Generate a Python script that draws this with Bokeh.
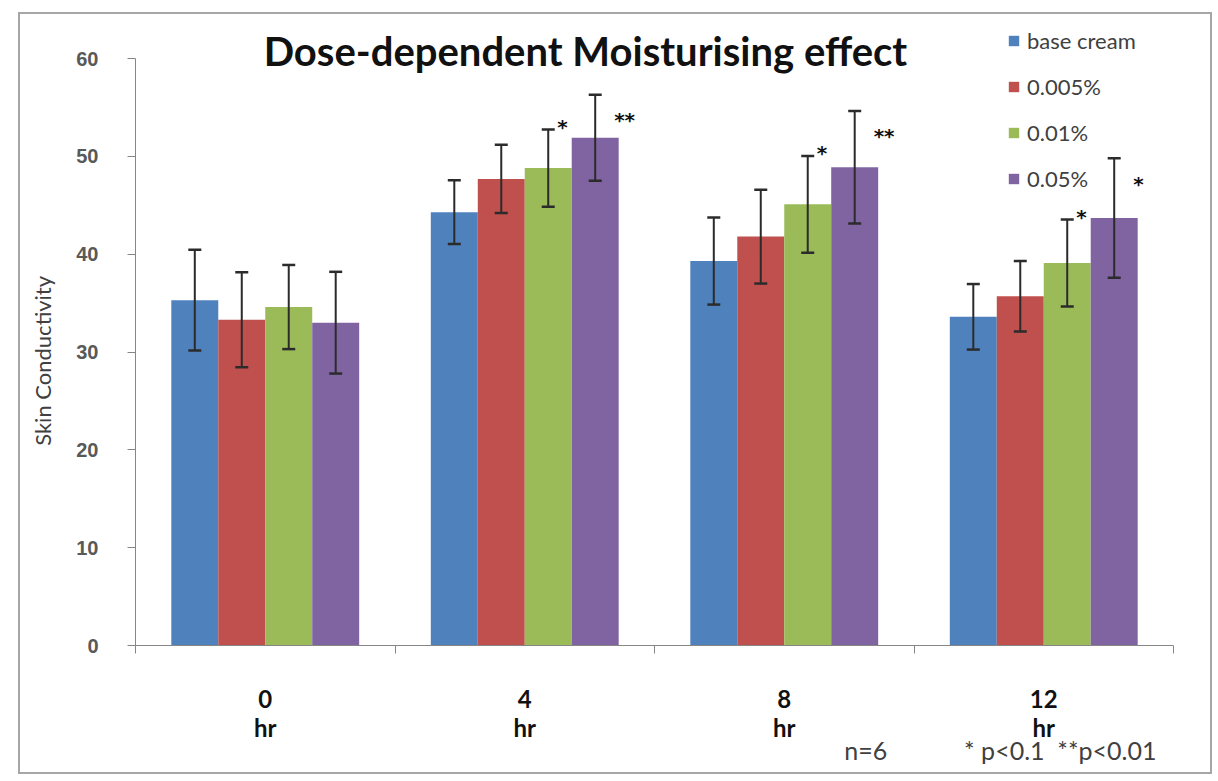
from bokeh.plotting import figure
from bokeh.models import (Range1d, FixedTicker, Whisker, TeeHead, ColumnDataSource,
                          Legend, LegendItem, Label, LinearAxis, Title)
from bokeh.core.properties import value
from bokeh.embed import file_html
from bokeh.resources import INLINE

# ---------------- data ----------------
hours = ["0", "4", "8", "12"]
hour_unit = "hr"
series_names = ["base cream", "0.005%", "0.01%", "0.05%"]
base_cream = [35.3, 44.3, 39.3, 33.6]
base_cream_err = [5.15, 3.25, 4.45, 3.35]
pct_0005 = [33.3, 47.7, 41.8, 35.7]
pct_0005_err = [4.85, 3.5, 4.8, 3.6]
pct_001 = [34.6, 48.8, 45.1, 39.1]
pct_001_err = [4.3, 3.95, 4.95, 4.45]
pct_005 = [33.0, 51.9, 48.9, 43.7]
pct_005_err = [5.2, 4.4, 5.75, 6.1]
sig_001 = ["", "*", "*", "*"]
sig_005 = ["", "**", "**", "*"]
y_ticks = [0, 10, 20, 30, 40, 50, 60]
NB = "\u00a0"
footnote = "n=6" + NB * 12 + "* p<0.1" + NB * 2 + "**p<0.01"
y_title = "Skin Conductivity"

values = [base_cream, pct_0005, pct_001, pct_005]
errors = [base_cream_err, pct_0005_err, pct_001_err, pct_005_err]
colors = ["#4F81BD", "#C0504D", "#9BBB59", "#8064A2"]

BAR_W = 0.181
ERR_COLOR = "#2b2b2b"
TEXT_COLOR = "#404040"
AXIS_COLOR = "#868686"

p = figure(width=1194, height=762, output_backend="svg", toolbar_location=None,
           x_range=Range1d(0, 4), y_range=Range1d(0, 63.89),
           min_border_left=115, min_border_right=41, min_border_top=6,
           min_border_bottom=131, title=None)
p.margin = (12, 0, 0, 18)
p.styles = {"border": "2px solid #a6a6a6"}
p.outline_line_color = None
p.background_fill_color = "white"
p.border_fill_color = "white"
p.grid.visible = False

legend_items = []
for j, (name, vals, errs, col) in enumerate(zip(series_names, values, errors, colors)):
    xs = [i + 0.5 + (j - 1.5) * BAR_W for i in range(len(hours))]
    src = ColumnDataSource(dict(x=xs, top=vals,
                                upper=[v + e for v, e in zip(vals, errs)],
                                lower=[v - e for v, e in zip(vals, errs)]))
    r = p.vbar(x="x", top="top", width=BAR_W, bottom=0, source=src,
               fill_color=col, line_color=None)
    legend_items.append(LegendItem(label=name, renderers=[r]))
    w = Whisker(source=src, base="x", upper="upper", lower="lower",
                line_color=ERR_COLOR, line_width=2, level="annotation",
                upper_head=TeeHead(size=13, line_color=ERR_COLOR, line_width=2.5),
                lower_head=TeeHead(size=13, line_color=ERR_COLOR, line_width=2.5))
    p.add_layout(w)

# significance markers (placed relative to the top of each error bar)
star_sets = [(2, sig_001, 0.035, 0.3), (3, sig_005, 0.073, -2.6)]
for j, sigs, dx, dy in star_sets:
    vals, errs = values[j], errors[j]
    sx, sy, st = [], [], []
    for i, s in enumerate(sigs):
        if s:
            sx.append(i + 0.5 + (j - 1.5) * BAR_W + dx)
            sy.append(vals[i] + errs[i] + dy)
            st.append(s)
    p.text(x=sx, y=sy, text=st, text_font=value("DejaVu Sans"), text_font_style="bold",
           text_font_size="20px", text_color="#111111", text_align="left",
           text_baseline="alphabetic")

centers = [i + 0.5 for i in range(len(hours))]

# x axis: hour numbers, boundary ticks
xa = p.xaxis[0]
xa.ticker = FixedTicker(ticks=centers, minor_ticks=list(range(len(hours) + 1)))
xa.major_label_overrides = {c: h for c, h in zip(centers, hours)}
xa.major_tick_line_color = None
xa.minor_tick_line_color = AXIS_COLOR
xa.minor_tick_out = 8
xa.minor_tick_in = 0
xa.axis_line_color = AXIS_COLOR
xa.major_label_text_font = "Lato"
xa.major_label_text_font_style = "bold"
xa.major_label_text_font_size = "24px"
xa.major_label_text_color = "#111111"
xa.major_label_standoff = 36

# second x axis row: unit
xa2 = LinearAxis(ticker=FixedTicker(ticks=centers, minor_ticks=[]),
                 major_label_overrides={c: hour_unit for c in centers},
                 axis_line_color=None, major_tick_line_color=None,
                 minor_tick_line_color=None, major_label_standoff=-4,
                 major_label_text_font="Lato", major_label_text_font_style="bold",
                 major_label_text_font_size="24px", major_label_text_color="#111111")
p.add_layout(xa2, "below")

# footnote row
p.add_layout(Title(text=footnote, align="right", offset=17, standoff=-23,
                   text_font="Lato", text_font_style="normal", text_font_size="25px",
                   text_color=TEXT_COLOR), "below")

ya = p.yaxis[0]
ya.ticker = FixedTicker(ticks=y_ticks, minor_ticks=[])
ya.bounds = (0, 60)
ya.axis_line_color = AXIS_COLOR
ya.major_tick_line_color = AXIS_COLOR
ya.major_tick_out = 8
ya.major_tick_in = 0
ya.major_label_text_font = "Liberation Sans"
ya.major_label_text_font_style = "bold"
ya.major_label_text_font_size = "20px"
ya.major_label_text_color = "#595959"
ya.major_label_standoff = 29
# trailing no-break spaces re-centre the rotated title on the 0-60 axis span
ya.axis_label = y_title + NB * 10
ya.axis_label_text_font = "Lato"
ya.axis_label_text_font_style = "normal"
ya.axis_label_text_font_size = "22px"
ya.axis_label_text_color = TEXT_COLOR
ya.axis_label_standoff = 17

# legend (location = bottom-left corner, screen px from frame bottom-left)
legend = Legend(items=legend_items, location=(872, 453), orientation="vertical",
                padding=0, margin=0, spacing=19, glyph_width=13, glyph_height=13,
                label_height=24, label_standoff=7,
                label_text_font="Lato", label_text_font_size="22px",
                label_text_color=TEXT_COLOR, border_line_color=None,
                background_fill_alpha=0)
p.add_layout(legend)

# title
p.add_layout(Label(x=1.734, y=60.8, text="Dose-dependent Moisturising effect",
                   text_font="Lato", text_font_style="bold", text_font_size="40px",
                   text_color="#111111", text_align="center", text_baseline="middle"))

open("out.html", "w").write(file_html(p, INLINE))
